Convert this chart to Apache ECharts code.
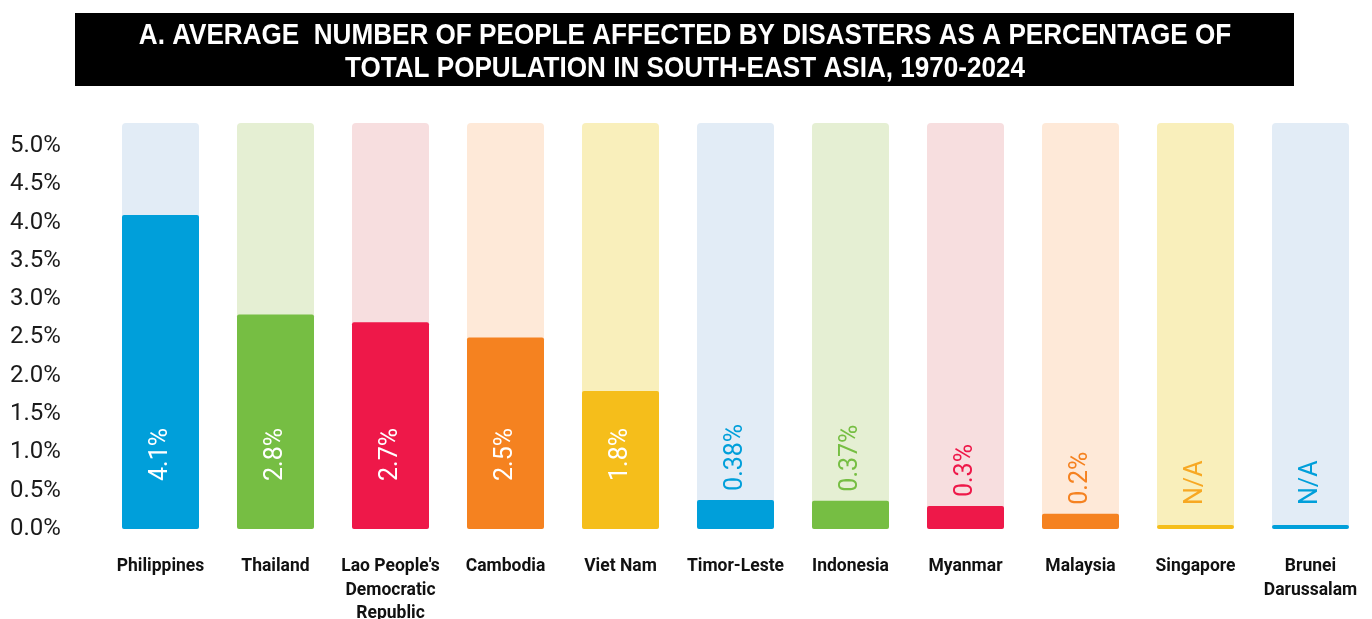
<!DOCTYPE html>
<html>
<head>
<meta charset="utf-8">
<script src="https://cdn.jsdelivr.net/npm/echarts@6/dist/echarts.min.js"></script>
<style>
  html, body { margin: 0; padding: 0; background: #ffffff; }
  #chart { width: 1372px; height: 619px; }
</style>
</head>
<body>
<div id="chart"></div>
<script>
// Countries, in the order shown
const countries = [
  'Philippines', 'Thailand', "Lao People's\nDemocratic\nRepublic", 'Cambodia',
  'Viet Nam', 'Timor-Leste', 'Indonesia', 'Myanmar', 'Malaysia', 'Singapore',
  'Brunei\nDarussalam'
];
// Average share of population affected per year (%); null = no data
const affectedPct = [4.1, 2.8, 2.7, 2.5, 1.8, 0.38, 0.37, 0.3, 0.2, null, null];
// Printed value labels
const valueLabels = ['4.1%', '2.8%', '2.7%', '2.5%', '1.8%', '0.38%', '0.37%', '0.3%', '0.2%', 'N/A', 'N/A'];
// Height of the pale track behind each bar
const trackMax = 5.3;
const yTicks = ['0.0%', '0.5%', '1.0%', '1.5%', '2.0%', '2.5%', '3.0%', '3.5%', '4.0%', '4.5%', '5.0%'];

// Palette cycles blue, green, red, orange, yellow
const strong = ['#009FDA', '#76BE43', '#EE1849', '#F58220', '#F5BE1B'];
const pale   = ['#E2ECF6', '#E5EFD3', '#F7DEDF', '#FEE9D8', '#F9EFBB'];
const textOn = ['#009FDA', '#76BE43', '#EE1849', '#F58220', '#F7A823'];

const chart = echarts.init(document.getElementById('chart'), null, { renderer: 'canvas' });

const trackData = countries.map((c, i) => ({
  value: trackMax,
  itemStyle: { color: pale[i % 5] }
}));

// Tall bars carry a white label inside; short or missing ones get a coloured label above
const valueData = affectedPct.map((v, i) => {
  const big = v !== null && v >= 1;
  return {
    value: v === null ? 0 : v,
    itemStyle: { color: strong[i % 5] },
    label: big
      ? { position: 'insideBottom', distance: 48, color: '#ffffff' }
      : { position: 'top', distance: v === null ? 20 : 9, color: textOn[i % 5] }
  };
});

chart.setOption({
  animation: false,
  backgroundColor: '#ffffff',
  graphic: [
    {
      type: 'rect',
      shape: { x: 75, y: 13, width: 1219, height: 73 },
      style: { fill: '#000000' },
      z: 10
    },
    {
      type: 'text',
      x: 685,
      y: 52,
      scaleX: 0.87,
      z: 11,
      style: {
        text: 'A. AVERAGE  NUMBER OF PEOPLE AFFECTED BY DISASTERS AS A PERCENTAGE OF\nTOTAL POPULATION IN SOUTH-EAST ASIA, 1970-2024',
        fill: '#ffffff',
        font: 'bold 30px "Liberation Sans", Arial, sans-serif',
        align: 'center',
        verticalAlign: 'middle',
        lineHeight: 33
      }
    }
  ],
  grid: { left: 103, right: 4, top: 123, bottom: 90, outerBoundsMode: 'none' },
  xAxis: {
    type: 'category',
    data: countries,
    axisLine: { show: false },
    axisTick: { show: false },
    axisLabel: {
      interval: 0,
      margin: 26,
      color: '#111111',
      fontFamily: 'Roboto',
      fontWeight: 'bold',
      fontSize: 17.5,
      lineHeight: 23.5,
      verticalAlign: 'top'
    }
  },
  yAxis: {
    type: 'value',
    min: 0,
    max: trackMax,
    interval: 0.5,
    splitLine: { show: false },
    axisLine: { show: false },
    axisTick: { show: false },
    axisLabel: {
      showMaxLabel: false,
      align: 'left',
      margin: 93,
      color: '#1a1a1a',
      fontFamily: 'Roboto',
      fontSize: 24,
      formatter: (val) => {
        const idx = Math.round(val / 0.5);
        return Math.abs(idx * 0.5 - val) < 1e-6 && yTicks[idx] ? yTicks[idx] : '';
      }
    }
  },
  series: [
    {
      name: 'track',
      type: 'bar',
      barWidth: 77,
      barGap: '-100%',
      silent: true,
      itemStyle: { borderRadius: 4 },
      data: trackData,
      z: 1
    },
    {
      name: 'affected',
      type: 'bar',
      barWidth: 77,
      barGap: '-100%',
      barMinHeight: 4,
      itemStyle: { borderRadius: 2 },
      label: {
        show: true,
        rotate: 90,
        align: 'left',
        verticalAlign: 'middle',
        fontFamily: 'Roboto',
        fontSize: 25,
        formatter: (p) => valueLabels[p.dataIndex]
      },
      data: valueData,
      z: 2
    }
  ]
});
</script>
</body>
</html>
